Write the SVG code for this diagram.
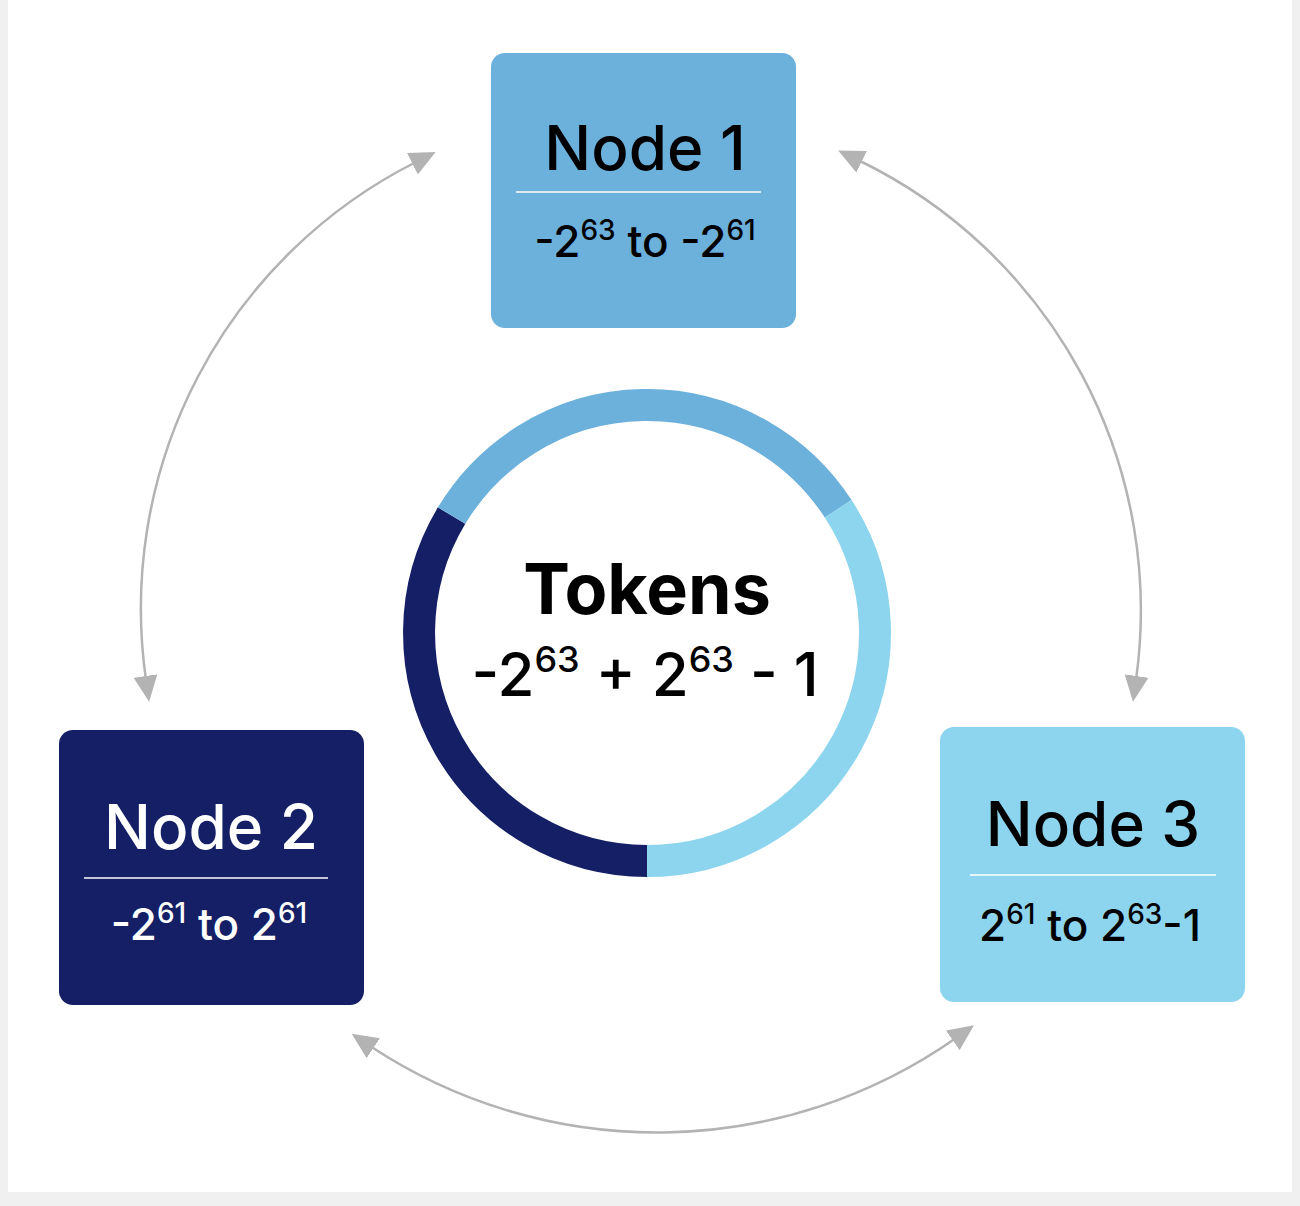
<svg xmlns="http://www.w3.org/2000/svg" width="1300" height="1206" viewBox="0 0 1300 1206">
<style>
.t{font-family:Inter,"Liberation Sans",sans-serif;text-anchor:middle}
.title{font-size:62px;font-weight:500}
.sub{font-size:44px;font-weight:500}
.sup{font-size:28px}
.conn{fill:none;stroke:#b3b3b3;stroke-width:2.5;marker-start:url(#ah);marker-end:url(#ah)}
</style>
<defs>
<marker id="ah" viewBox="0 0 26 24" refX="4" refY="12" markerWidth="26" markerHeight="24" markerUnits="userSpaceOnUse" orient="auto-start-reverse">
<path d="M0,0 L26,12 L0,24 Z" fill="#b3b3b3"/>
</marker>
</defs>
<rect width="1300" height="1206" fill="#f0f0f0"/>
<rect x="8" y="0" width="1284" height="1192" fill="#fff"/>
<g id="connectors">
<path class="conn" d="M146,680 A500,500 0 0 1 416,162"/>
<path class="conn" d="M858,160 A500,500 0 0 1 1136,680"/>
<path class="conn" d="M370,1046 A520,520 0 0 0 956,1038"/>
</g>
<g id="ring" fill="none" stroke-width="32">
<path d="M647,861 A228,228 0 0 1 451.6,515.6" stroke="#141f66"/>
<path d="M451.6,515.6 A228,228 0 0 1 838.2,508.8" stroke="#6cb0dc"/>
<path d="M838.2,508.8 A228,228 0 0 1 647,861" stroke="#8dd5ee"/>
<text class="t" x="647" y="614" font-size="70" font-weight="700" fill="#000">Tokens</text>
<text class="t sub" x="645" y="696" font-size="62" style="font-size:60px" fill="#000">-2<tspan class="sup" dy="-24" style="font-size:36px">63</tspan><tspan dy="24"> + 2</tspan><tspan dy="-24" style="font-size:36px">63</tspan><tspan dy="24"> - 1</tspan></text>
</g>
<g id="node1">
<rect x="491" y="53" width="305" height="275" rx="14" fill="#6cb0dc"/>
<text class="t title" x="645" y="170" fill="#000">Node 1</text>
<line x1="516" y1="192" x2="761" y2="192" stroke="#fff" stroke-width="1.5"/>
<text class="t sub" x="645" y="257" fill="#000">-2<tspan class="sup" dy="-17">63</tspan><tspan dy="17"> to -2</tspan><tspan class="sup" dy="-17">61</tspan></text>
</g>
<g id="node2">
<rect x="59" y="730" width="305" height="275" rx="14" fill="#141f66"/>
<text class="t title" x="211" y="849" fill="#fff">Node 2</text>
<line x1="84" y1="878" x2="328" y2="878" stroke="#fff" stroke-width="1.5"/>
<text class="t sub" x="209" y="940" fill="#fff">-2<tspan class="sup" dy="-17">61</tspan><tspan dy="17"> to 2</tspan><tspan class="sup" dy="-17">61</tspan></text>
</g>
<g id="node3">
<rect x="940" y="727" width="305" height="275" rx="14" fill="#8dd5ee"/>
<text class="t title" x="1093" y="846" fill="#000">Node 3</text>
<line x1="970" y1="875" x2="1216" y2="875" stroke="#fff" stroke-width="1.5"/>
<text class="t sub" x="1090" y="941" fill="#000">2<tspan class="sup" dy="-17">61</tspan><tspan dy="17"> to 2</tspan><tspan class="sup" dy="-17">63</tspan><tspan dy="17">-1</tspan></text>
</g>
</svg>
